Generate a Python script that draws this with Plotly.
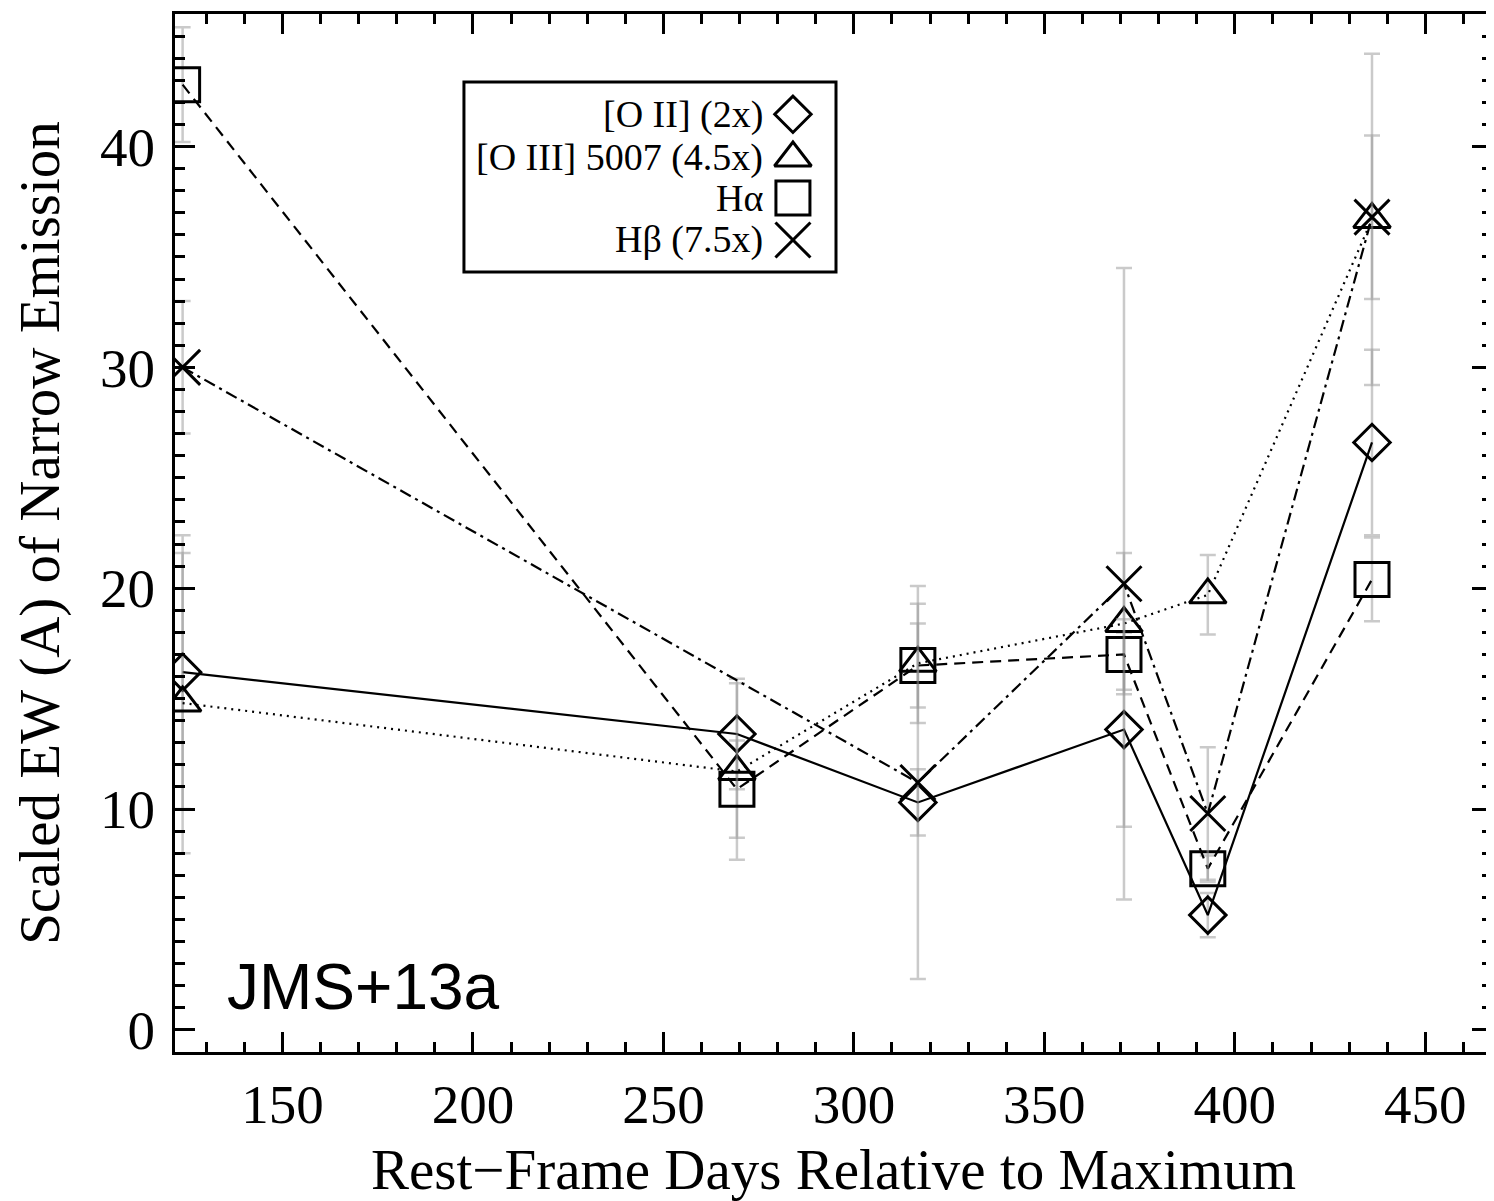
import plotly.graph_objects as go

# ---- data ----
days = [123.8, 269.3, 316.8, 370.9, 392.9, 436.0]
oii = [16.2, 13.4, 10.3, 13.6, 5.2, 26.6]
oii_err = [6.2, 2.5, 1.5, 4.4, 1.0, 4.2]
oiii = [14.8, 11.7, 16.6, 18.4, 19.7, 36.7]
oiii_err = [6.8, 4.0, 2.7, 3.2, 1.8, 7.5]
halpha = [42.8, 10.9, 16.5, 17.0, 7.3, 20.4]
halpha_err = [2.6, 2.2, 1.9, 1.6, 0.6, 1.9]
hbeta = [30.0, None, 11.2, 20.2, 9.8, 36.8]
hbeta_err = [3.0, None, 8.9, 14.3, 3.0, 3.7]

series_names = ["[O II] (2x)", "[O III] 5007 (4.5x)", "H\u03b1", "H\u03b2 (7.5x)"]
x_ticks = [150, 200, 250, 300, 350, 400, 450]
y_ticks = [0, 10, 20, 30, 40]

SERIF = "Liberation Serif"
ERR_COLOR = "rgba(150,150,150,0.5)"

styles = [
    dict(y=oii, e=oii_err, symbol="diamond-open", size=28, dash="solid"),
    dict(y=oiii, e=oiii_err, symbol="triangle-up-open", size=32, dash="2px,5px"),
    dict(y=halpha, e=halpha_err, symbol="square-open", size=34, dash="11px,7px"),
    dict(y=hbeta, e=hbeta_err, symbol="x-thin-open", size=35, dash="12px,5px,3px,5px"),
]

fig = go.Figure()
for name, s in zip(series_names, styles):
    fig.add_trace(go.Scatter(
        x=days, y=s["y"], mode="lines+markers", name=name, connectgaps=True,
        line=dict(color="black", width=2.2, dash=s["dash"]),
        marker=dict(symbol=s["symbol"], size=s["size"], color="black",
                    line=dict(color="black", width=3)),
        error_y=dict(type="data", array=s["e"], visible=True,
                     color=ERR_COLOR, thickness=2.5, width=8),
        showlegend=False,
    ))

# ---- manual legend (markers to the right of text) ----
leg_x = 0.4692
leg_rows = [0.9034, 0.8613, 0.8227, 0.7823]
for name, s, ry in zip(series_names, styles, leg_rows):
    fig.add_trace(go.Scatter(
        x=[leg_x], y=[ry], mode="markers", xaxis="x2", yaxis="y2",
        marker=dict(symbol=s["symbol"], size=s["size"], color="black",
                    line=dict(color="black", width=3)),
        showlegend=False, hoverinfo="skip", cliponaxis=False,
    ))
    fig.add_annotation(x=0.448, y=ry, xref="paper", yref="paper",
                       text=name, showarrow=False, xanchor="right", yanchor="middle",
                       font=dict(family=SERIF, size=38, color="black"))

fig.add_shape(type="rect", xref="paper", yref="paper",
              x0=0.2194, x1=0.5019, y0=0.7514, y1=0.9345,
              line=dict(color="black", width=3), fillcolor="rgba(0,0,0,0)")

fig.add_annotation(x=0.038, y=0.0627, xref="paper", yref="paper",
                   text="JMS+13a", showarrow=False, xanchor="left", yanchor="middle",
                   font=dict(family="Liberation Sans", size=64, color="black"))

axis_common = dict(
    showline=True, linewidth=3, linecolor="black", mirror="allticks",
    ticks="inside", ticklen=20, tickwidth=3, tickcolor="black",
    showgrid=False, zeroline=False, automargin=False,
    tickfont=dict(family=SERIF, size=55, color="black"),
)

fig.update_layout(
    width=1486, height=1193,
    margin=dict(l=167, r=2, t=6, b=149),
    paper_bgcolor="white", plot_bgcolor="white",
    xaxis=dict(range=[121.8, 467.5], tickvals=x_ticks, ticklabelstandoff=2,
               minor=dict(dtick=10, ticks="inside", ticklen=10, tickwidth=3, tickcolor="black"),
               title=dict(text="Rest\u2212Frame Days Relative to Maximum",
                          font=dict(family=SERIF, size=57, color="black"), standoff=16),
               **axis_common),
    yaxis=dict(range=[-1, 46], tickvals=y_ticks, ticklabelstandoff=6,
               minor=dict(dtick=1, ticks="inside", ticklen=10, tickwidth=3, tickcolor="black"),
               title=dict(text="Scaled EW (A) of Narrow Emission",
                          font=dict(family=SERIF, size=57, color="black"), standoff=23),
               **axis_common),
    xaxis2=dict(overlaying="x", range=[0, 1], visible=False),
    yaxis2=dict(overlaying="y", range=[0, 1], visible=False),
)

fig.write_html("out.html")
